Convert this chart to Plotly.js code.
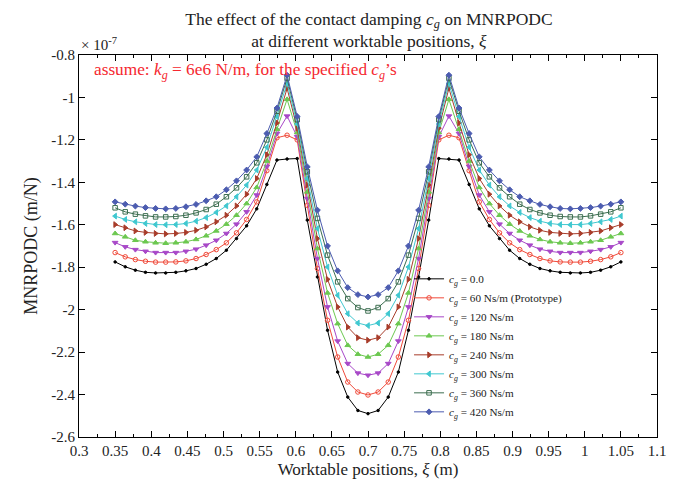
<!DOCTYPE html>
<html>
<head>
<meta charset="utf-8">
<script src="https://cdn.plot.ly/plotly-3.0.1.min.js"></script>
<style>body{margin:0;background:#fff;} #chart{width:687px;height:490px;}</style>
</head>
<body>
<div id="chart"></div>
<script>
// Worktable positions (m)
const xi = [0.35,0.364,0.378,0.392,0.406,0.42,0.434,0.448,0.462,0.476,0.49,0.504,0.518,0.532,0.546,0.56,0.574,0.588,0.602,0.616,0.63,0.644,0.658,0.672,0.686,0.7,0.714,0.728,0.742,0.756,0.77,0.784,0.798,0.812,0.826,0.84,0.854,0.868,0.882,0.896,0.91,0.924,0.938,0.952,0.966,0.98,0.994,1.008,1.022,1.036,1.05];

// MNRPODC values (x 1e-7 m/N)
const cg0 = [-1.775,-1.798,-1.814,-1.824,-1.827,-1.827,-1.824,-1.817,-1.806,-1.786,-1.759,-1.720,-1.665,-1.605,-1.525,-1.410,-1.295,-1.290,-1.288,
  -1.578,-1.846,-2.097,-2.294,-2.412,-2.475,-2.490,
  -2.475,-2.412,-2.294,-2.097,-1.846,-1.578,-1.288,-1.290,-1.295,-1.410,-1.525,-1.605,-1.665,-1.720,-1.759,-1.786,-1.806,-1.817,-1.824,-1.827,-1.827,-1.824,-1.814,-1.798,-1.775];
const cg60 = [-1.731,-1.751,-1.764,-1.772,-1.776,-1.776,-1.775,-1.770,-1.759,-1.740,-1.717,-1.685,-1.638,-1.575,-1.492,-1.345,-1.190,-1.178,-1.200,
  -1.508,-1.806,-2.050,-2.223,-2.341,-2.388,-2.402,
  -2.388,-2.341,-2.223,-2.050,-1.806,-1.508,-1.200,-1.178,-1.190,-1.345,-1.492,-1.575,-1.638,-1.685,-1.717,-1.740,-1.759,-1.770,-1.775,-1.776,-1.776,-1.772,-1.764,-1.751,-1.731];
const cg120 = [-1.684,-1.704,-1.717,-1.725,-1.731,-1.731,-1.731,-1.725,-1.715,-1.696,-1.673,-1.641,-1.597,-1.539,-1.460,-1.325,-1.170,-1.088,-1.185,
  -1.476,-1.759,-1.987,-2.148,-2.254,-2.299,-2.309,
  -2.299,-2.254,-2.148,-1.987,-1.759,-1.476,-1.185,-1.088,-1.170,-1.325,-1.460,-1.539,-1.597,-1.641,-1.673,-1.696,-1.715,-1.725,-1.731,-1.731,-1.731,-1.725,-1.717,-1.704,-1.684];
const cg180 = [-1.641,-1.657,-1.673,-1.680,-1.685,-1.687,-1.685,-1.680,-1.669,-1.652,-1.629,-1.597,-1.555,-1.500,-1.424,-1.300,-1.150,-1.009,-1.165,
  -1.445,-1.712,-1.921,-2.066,-2.168,-2.210,-2.223,
  -2.210,-2.168,-2.066,-1.921,-1.712,-1.445,-1.165,-1.009,-1.150,-1.300,-1.424,-1.500,-1.555,-1.597,-1.629,-1.652,-1.669,-1.680,-1.685,-1.687,-1.685,-1.680,-1.673,-1.657,-1.641];
const cg240 = [-1.599,-1.614,-1.629,-1.636,-1.641,-1.643,-1.641,-1.636,-1.626,-1.610,-1.586,-1.555,-1.511,-1.456,-1.382,-1.270,-1.120,-0.957,-1.145,
  -1.413,-1.665,-1.857,-1.987,-2.082,-2.132,-2.144,
  -2.132,-2.082,-1.987,-1.857,-1.665,-1.413,-1.145,-0.957,-1.120,-1.270,-1.382,-1.456,-1.511,-1.555,-1.586,-1.610,-1.626,-1.636,-1.641,-1.643,-1.641,-1.636,-1.629,-1.614,-1.599];
const cg300 = [-1.559,-1.575,-1.586,-1.594,-1.599,-1.600,-1.599,-1.594,-1.583,-1.566,-1.542,-1.511,-1.468,-1.413,-1.342,-1.235,-1.090,-0.934,-1.125,
  -1.382,-1.618,-1.799,-1.932,-2.019,-2.063,-2.075,
  -2.063,-2.019,-1.932,-1.799,-1.618,-1.382,-1.125,-0.934,-1.090,-1.235,-1.342,-1.413,-1.468,-1.511,-1.542,-1.566,-1.583,-1.594,-1.599,-1.600,-1.599,-1.594,-1.586,-1.575,-1.559];
const cg360 = [-1.520,-1.539,-1.550,-1.558,-1.563,-1.563,-1.561,-1.555,-1.544,-1.528,-1.503,-1.468,-1.426,-1.374,-1.308,-1.200,-1.065,-0.910,-1.105,
  -1.350,-1.570,-1.743,-1.869,-1.948,-1.990,-2.006,
  -1.990,-1.948,-1.869,-1.743,-1.570,-1.350,-1.105,-0.910,-1.065,-1.200,-1.308,-1.374,-1.426,-1.468,-1.503,-1.528,-1.544,-1.555,-1.561,-1.563,-1.563,-1.558,-1.550,-1.539,-1.520];
const cg420 = [-1.492,-1.503,-1.512,-1.519,-1.523,-1.525,-1.523,-1.515,-1.504,-1.487,-1.468,-1.435,-1.393,-1.342,-1.280,-1.170,-1.050,-0.895,-1.090,
  -1.327,-1.531,-1.700,-1.817,-1.896,-1.929,-1.940,
  -1.929,-1.896,-1.817,-1.700,-1.531,-1.327,-1.090,-0.895,-1.050,-1.170,-1.280,-1.342,-1.393,-1.435,-1.468,-1.487,-1.504,-1.515,-1.523,-1.525,-1.523,-1.519,-1.512,-1.503,-1.492];

const seriesNames = [
  '<i>c<sub>g</sub></i> = 0.0',
  '<i>c<sub>g</sub></i> = 60 Ns/m (Prototype)',
  '<i>c<sub>g</sub></i> = 120 Ns/m',
  '<i>c<sub>g</sub></i> = 180 Ns/m',
  '<i>c<sub>g</sub></i> = 240 Ns/m',
  '<i>c<sub>g</sub></i> = 300 Ns/m',
  '<i>c<sub>g</sub></i> = 360 Ns/m',
  '<i>c<sub>g</sub></i> = 420 Ns/m'
];
const seriesValues = [cg0, cg60, cg120, cg180, cg240, cg300, cg360, cg420];

const yTickVals = [-0.8,-1,-1.2,-1.4,-1.6,-1.8,-2,-2.2,-2.4,-2.6];
const yTickText = ['-0.8','-1','-1.2','-1.4','-1.6','-1.8','-2','-2.2','-2.4','-2.6'];

const colors = ['#000000','#f04a3a','#a848c8','#6cc850','#a83c2a','#40c8d0','#3c6e50','#4c5cb0'];
const symbols = ['circle','circle-open','triangle-down','triangle-up','triangle-right','triangle-left','square-open','diamond'];
const sizes = [2.5,4.5,5,5,5,5,4.5,4.5];

const traces = seriesValues.map((v, k) => ({
  x: xi, y: v, type: 'scatter', mode: 'lines+markers', name: seriesNames[k],
  line: {color: colors[k], width: 1},
  marker: {color: colors[k], symbol: symbols[k], size: sizes[k], line: {color: colors[k], width: 1}}
}));

const fontFam = 'Liberation Serif, Times New Roman, serif';
const layout = {
  width: 687, height: 490,
  margin: {l: 79, r: 30, t: 55, b: 53},
  paper_bgcolor: '#fff', plot_bgcolor: '#fff',
  font: {family: fontFam, size: 15, color: '#222'},
  title: {
    text: 'The effect of the contact damping <i>c<sub>g</sub></i> on MNRPODC<br>at different worktable positions, <i>ξ</i>',
    x: 0.537, xanchor: 'center', y: 0.95, yanchor: 'middle', yref: 'container',
    font: {family: fontFam, size: 17.5, color: '#222'}
  },
  xaxis: {
    range: [0.3, 1.1], tick0: 0.3, dtick: 0.05, ticks: 'inside', ticklen: 6, tickcolor: '#000',
    minor: {dtick: 0.025, ticks: 'inside', ticklen: 3, tickcolor: '#000'},
    showline: true, linecolor: '#000', linewidth: 1, mirror: 'ticks', showgrid: false, zeroline: false,
    tickfont: {family: fontFam, size: 15, color: '#222'},
    title: {text: 'Worktable positions, <i>ξ</i> (m)', font: {family: fontFam, size: 17, color: '#222'}, standoff: 5}
  },
  yaxis: {
    range: [-2.6, -0.8], tickvals: yTickVals, ticktext: yTickText, ticks: 'inside', ticklen: 6, tickcolor: '#000',
    showline: true, linecolor: '#000', linewidth: 1, mirror: 'ticks', showgrid: false, zeroline: false,
    tickfont: {family: fontFam, size: 15, color: '#222'},
    title: {text: 'MNRPODC (m/N)', font: {family: fontFam, size: 18, color: '#222'}, standoff: 8}
  },
  legend: {
    x: 0.571, y: 0.452, xanchor: 'left', yanchor: 'top', bgcolor: 'rgba(0,0,0,0)',
    font: {family: fontFam, size: 11.2, color: '#222'}, tracegroupgap: 0, itemwidth: 30
  },
  annotations: [
    {xref: 'paper', yref: 'paper', x: 0, y: 1.0, xanchor: 'left', yanchor: 'bottom', showarrow: false,
     text: '× 10<sup>-7</sup>', font: {family: fontFam, size: 15, color: '#222'}},
    {xref: 'paper', yref: 'paper', x: 0.022, y: 0.958, xanchor: 'left', yanchor: 'middle', showarrow: false,
     text: 'assume: <i>k<sub>g</sub></i> = 6e6 N/m, for the specified <i>c<sub>g</sub></i>’s',
     font: {family: fontFam, size: 17.3, color: '#f52830'}}
  ],
  showlegend: true
};

Plotly.newPlot('chart', traces, layout, {displayModeBar: false, staticPlot: true});
</script>
</body>
</html>
